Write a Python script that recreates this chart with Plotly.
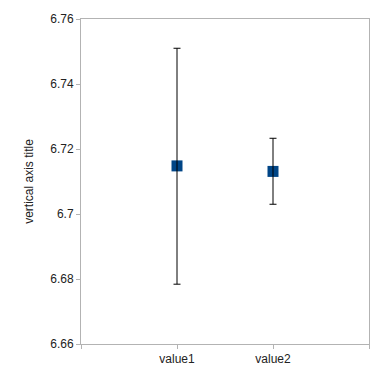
import plotly.graph_objects as go

categories = ["value1", "value2"]
means = [6.7148, 6.7131]
upper = [6.7510, 6.7233]
lower = [6.6784, 6.7030]
y_ticks = [6.66, 6.68, 6.70, 6.72, 6.74, 6.76]
y_tick_labels = ["6.66", "6.68", "6.7", "6.72", "6.74", "6.76"]

x_pos = [i + 1 for i in range(len(categories))]
err_plus = [u - m for u, m in zip(upper, means)]
err_minus = [m - l for m, l in zip(means, lower)]

fig = go.Figure()
fig.add_trace(go.Scatter(
    x=x_pos, y=means, mode="markers",
    marker=dict(symbol="square", size=11, color="#004586", line=dict(width=0)),
    showlegend=False, hoverinfo="skip",
))
fig.add_trace(go.Scatter(
    x=x_pos, y=means, mode="markers",
    marker=dict(size=1, opacity=0),
    error_y=dict(type="data", symmetric=False, array=err_plus, arrayminus=err_minus,
                 color="black", thickness=1, width=3.5),
    showlegend=False, hoverinfo="skip",
))

axis_color = "#b3b3b3"
# page body has an 8px default margin, so the figure is 370px and offset by 8px
fig.update_layout(
    width=370, height=370,
    margin=dict(l=73, r=9, t=11, b=34, autoexpand=False),
    paper_bgcolor="white", plot_bgcolor="white",
    font=dict(family="Liberation Sans, Arial, sans-serif", size=12, color="#222222"),
    xaxis=dict(
        range=[0, len(categories) + 1],
        tickvals=[0] + x_pos + [len(categories) + 1],
        ticktext=[""] + categories + [""],
        ticks="outside", ticklen=4, tickcolor=axis_color, tickwidth=1,
        showline=True, linecolor=axis_color, linewidth=1, mirror=True,
        showgrid=False, zeroline=False,
    ),
    yaxis=dict(
        range=[y_ticks[0], y_ticks[-1]],
        tickvals=y_ticks, ticktext=y_tick_labels,
        ticks="outside", ticklen=4, tickcolor=axis_color, tickwidth=1,
        showline=True, linecolor=axis_color, linewidth=1, mirror=True,
        showgrid=False, zeroline=False,
        title=dict(text="vertical axis title", standoff=14,
                   font=dict(size=12, color="#222222")),
    ),
)

fig.write_html("out.html")
